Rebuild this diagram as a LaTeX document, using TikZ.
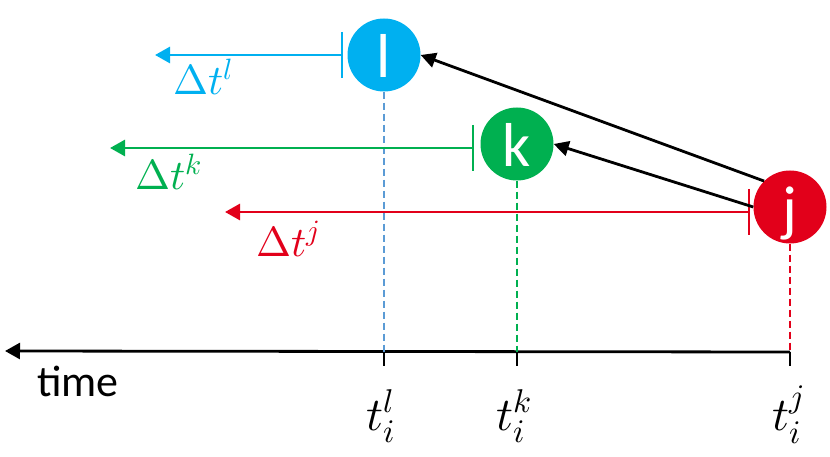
\documentclass[tikz,border=0pt]{standalone}
\usepackage{fontspec}
\usepackage{unicode-math}
\setmainfont{Carlito}
\setmathfont{Latin Modern Math}
\usetikzlibrary{arrows.meta}
\definecolor{cl}{HTML}{00B0F0}
\definecolor{ck}{HTML}{00B050}
\definecolor{cj}{HTML}{E2001A}
\definecolor{dl}{HTML}{5B9BD5}
\begin{document}
\begin{tikzpicture}[x=1pt,y=-1pt,
  ev/.style={circle,fill=#1,minimum size=73pt,inner sep=0pt,text=white,
    font=\fontsize{62}{62}\selectfont,text height=45pt,text depth=0pt},
  dt/.style={line width=2.8pt,draw=#1,
    {Bar[width=46pt,line width=2pt]}-{Triangle[length=15pt,width=16pt]}},
  drop/.style={draw=#1,line width=1.3pt,dash pattern=on 7pt off 4pt},
  cause/.style={line width=2.8pt,-{Triangle[length=15pt,width=15pt]}},
  tick/.style={line width=1.3pt},
  dlab/.style={text=#1,anchor=base west,inner sep=0pt,font=\fontsize{42}{42}\selectfont},
  tlab/.style={anchor=base,inner sep=0pt,font=\fontsize{47}{47}\selectfont}
]
\useasboundingbox (0,0) rectangle (830,457);

% events
\node[ev=cl] (l) at (384,55) {l};
\node[ev=ck] (k) at (517,144) {k};
\node[ev=cj] (j) at (790,207) {j};

% timeline
\coordinate (tr) at (790,352);
\coordinate (tlft) at (5,351);
\draw[line width=2.8pt,-{Triangle[length=15pt,width=16pt]}] (tr) -- (tlft);
\coordinate (xl) at (384,352);
\coordinate (xk) at (517,352);
\coordinate (xj) at (790,352);
\coordinate (xlb) at (384,366);
\coordinate (xkb) at (517,366);
\coordinate (xjb) at (790,366);
\draw[tick] (xl) -- (xlb);
\draw[tick] (xk) -- (xkb);
\draw[tick] (xj) -- (xjb);

% dashed drops
\draw[drop=dl] (l.south) -- (xl);
\draw[drop=ck] (k.south) -- (xk);
\draw[drop=cj] (j.south) -- (xj);

% delta arrows
\coordinate (al0) at (343,55);
\coordinate (al1) at (155,55);
\coordinate (ak0) at (474,148);
\coordinate (ak1) at (110,148);
\coordinate (aj0) at (750,212);
\coordinate (aj1) at (225,212);
\draw[dt=cl] (al0) -- (al1);
\draw[dt=ck] (ak0) -- (ak1);
\draw[dt=cj] (aj0) -- (aj1);

% causal arrows
\draw[cause] (j.135) -- (l.east);
\draw[cause] (j.west) -- (k.east);

% labels
\node[dlab=cl] (dtl) at (173,95) {$\Delta t^{l}$};
\node[dlab=ck] (dtk) at (135,190) {$\Delta t^{k}$};
\node[dlab=cj] (dtj) at (256,256) {$\Delta t^{j}$};

\node[anchor=base west,inner sep=0pt,font=\fontsize{44}{44}\selectfont] (time) at (37,396) {time};
\node[tlab] (til) at (381,430) {$t_i^{l}$};
\node[tlab] (tik) at (514,430) {$t_i^{k}$};
\node[tlab] (tij) at (788,430) {$t_i^{j}$};
\end{tikzpicture}
\end{document}
